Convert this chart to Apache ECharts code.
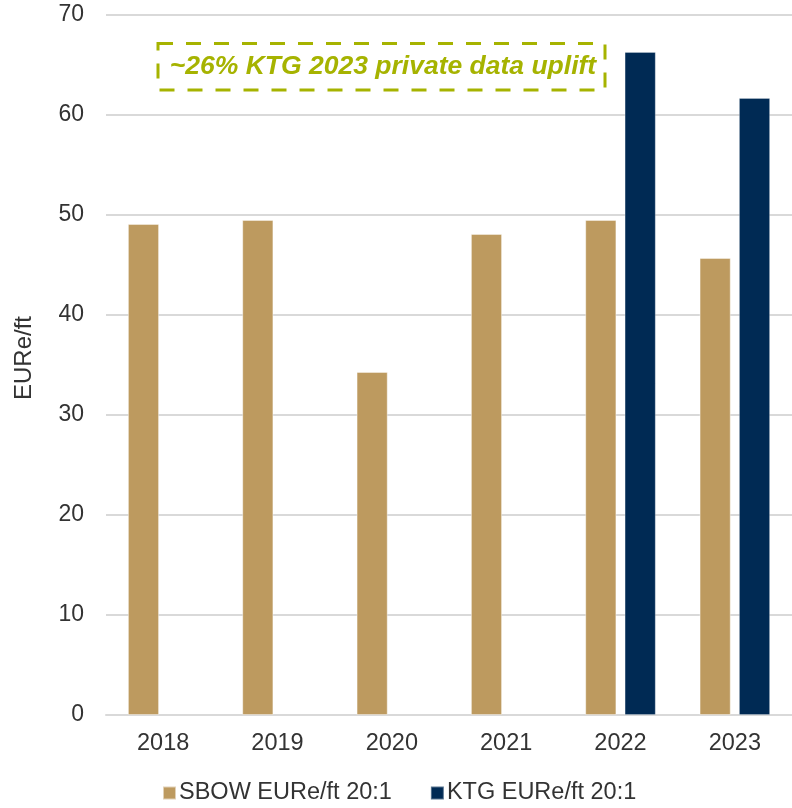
<!DOCTYPE html>
<html>
<head>
<meta charset="utf-8">
<script src="https://cdn.jsdelivr.net/npm/echarts@6/dist/echarts.min.js"></script>
<style>
  html, body { margin: 0; padding: 0; background: #ffffff; }
  #chart { width: 792px; height: 808px; }
</style>
</head>
<body>
<div id="chart"></div>
<script>
// Well-level EUR per foot, by vintage year
const years = ['2018', '2019', '2020', '2021', '2022', '2023'];
const sbowValues = [49.1, 49.5, 34.3, 48.1, 49.5, 45.7];
const ktgValues = [null, null, null, null, 66.3, 61.7];
const seriesNames = ['SBOW EURe/ft 20:1', 'KTG EURe/ft 20:1'];
const yTicks = { min: 0, max: 70, interval: 10 };
const axisTitle = 'EURe/ft';
const calloutText = '~26% KTG 2023 private data uplift';

const FONT = '"Liberation Sans", Arial, sans-serif';
const TEXT = '#333333';
const GRID = '#D9D9D9';
const GOLD = '#BD9A5F';
const NAVY = '#002A54';
const LIME = '#A6B300';

const chart = echarts.init(document.getElementById('chart'), null, { renderer: 'canvas' });

chart.setOption({
  backgroundColor: '#ffffff',
  animation: false,
  textStyle: { fontFamily: FONT },
  grid: { left: 106, right: -4, top: 15, bottom: 93, containLabel: false },
  legend: {
    left: 162,
    top: 781,
    padding: 0,
    itemWidth: 13,
    itemHeight: 13,
    itemGap: 38,
    icon: 'rect',
    textStyle: { fontFamily: FONT, fontSize: 23.5, color: TEXT, lineHeight: 24, padding: [0, 0, 0, -2] },
    data: seriesNames
  },
  xAxis: {
    type: 'category',
    data: years,
    axisLine: { show: true, lineStyle: { color: GRID, width: 2 } },
    axisTick: { show: false },
    axisLabel: { fontFamily: FONT, fontSize: 23.5, color: TEXT, margin: 17 }
  },
  yAxis: {
    type: 'value',
    min: yTicks.min,
    max: yTicks.max,
    interval: yTicks.interval,
    name: axisTitle,
    nameLocation: 'middle',
    nameGap: 70,
    nameRotate: 90,
    nameTextStyle: { fontFamily: FONT, fontSize: 24, color: TEXT, padding: [0, 0, 0, 14] },
    axisLine: { show: false },
    axisTick: { show: false },
    splitLine: { lineStyle: { color: GRID, width: 2 } },
    axisLabel: { fontFamily: FONT, fontSize: 23, color: TEXT, margin: 22 }
  },
  series: [
    {
      name: seriesNames[0],
      type: 'bar',
      data: sbowValues,
      barWidth: 31,
      barGap: '27%',
      itemStyle: { color: GOLD, borderColor: 'rgba(255,255,255,0.55)', borderWidth: 0.8 }
    },
    {
      name: seriesNames[1],
      type: 'bar',
      data: ktgValues,
      barWidth: 31,
      barGap: '27%',
      itemStyle: { color: NAVY, borderColor: 'rgba(255,255,255,0.35)', borderWidth: 0.8 }
    }
  ],
  graphic: [
    {
      type: 'rect',
      shape: { x: 158, y: 43.5, width: 447, height: 46.5 },
      style: { fill: 'none', stroke: LIME, lineWidth: 3, lineDash: [15, 13] },
      z: 10
    },
    {
      type: 'text',
      x: 383,
      y: 67,
      style: {
        text: calloutText,
        fill: LIME,
        font: 'italic bold 26.5px ' + FONT,
        align: 'center',
        verticalAlign: 'middle'
      },
      z: 10
    }
  ]
});
</script>
</body>
</html>
